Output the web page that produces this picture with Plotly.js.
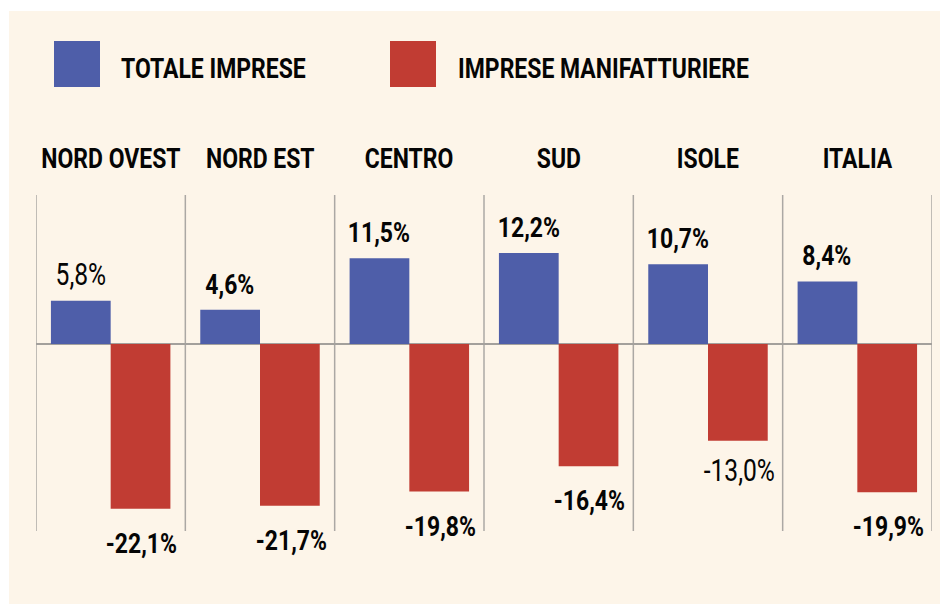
<!DOCTYPE html>
<html>
<head>
<meta charset="utf-8">
<script src="https://cdn.plot.ly/plotly-3.0.1.min.js"></script>
<style>html,body{margin:0;padding:0;background:#fff;}#chart{width:940px;height:604px;}</style>
</head>
<body>
<div id="chart"></div>
<script>
const categories = ['NORD OVEST', 'NORD EST', 'CENTRO', 'SUD', 'ISOLE', 'ITALIA'];
const totaleImprese = [5.8, 4.6, 11.5, 12.2, 10.7, 8.4];
const impreseManifatturiere = [-22.1, -21.7, -19.8, -16.4, -13.0, -19.9];
const seriesNames = ['TOTALE IMPRESE', 'IMPRESE MANIFATTURIERE'];

const W = 940, H = 604;
const BLUE = '#4e5ea9', RED = '#c13c33', CREAM = '#fdf5e9';
const FONT = 'Roboto, "Liberation Sans", sans-serif';
const plotL = 36, plotR = 932, plotT = 195, plotB = 531;
const BOLDF = {family: FONT, size: 28, color: '#050505', weight: 'bold'};
const LIGHTF = {family: FONT, size: 32, color: '#050505', weight: 'normal'};
const SQ = 0.82, SQL = 0.77;

function fmt(v) { return v.toFixed(1).replace('.', ',') + '%'; }

const traces = [
  {type: 'bar', name: seriesNames[0], x: categories, y: totaleImprese, marker: {color: BLUE}, hoverinfo: 'skip'},
  {type: 'bar', name: seriesNames[1], x: categories, y: impreseManifatturiere, marker: {color: RED}, hoverinfo: 'skip'}
];

const annotations = [];
const squeeze = [];
const shapes = [];
function addAnn(a, s, origin) { annotations.push(a); squeeze.push({s: s, origin: origin}); }

shapes.push({type: 'rect', xref: 'paper', yref: 'paper', x0: 9 / W, x1: 1, y0: 0, y1: 1 - 11 / H,
  fillcolor: CREAM, line: {width: 0}, layer: 'below'});
for (let i = 0; i <= categories.length; i++) {
  shapes.push({type: 'line', xref: 'x', yref: 'paper', x0: i - 0.5, x1: i - 0.5,
    y0: 1 - plotB / H, y1: 1 - plotT / H, line: {color: '#aba8a4', width: 1.5}, layer: 'below'});
}
categories.forEach(c => addAnn({x: c, xref: 'x', y: 1 - plotT / H, yref: 'paper',
  text: c, showarrow: false, yanchor: 'middle', yshift: 36, font: BOLDF}, SQ, 'center'));
const lightBlue = [0], lightRed = [4];
totaleImprese.forEach((v, i) => {
  const light = lightBlue.includes(i);
  addAnn({x: categories[i], xref: 'x', y: v, yref: 'y', text: fmt(v), showarrow: false,
    yanchor: 'bottom', xshift: -30, yshift: light ? 6 : 7, font: light ? LIGHTF : BOLDF}, light ? SQL : SQ, 'center');
});
impreseManifatturiere.forEach((v, i) => {
  const light = lightRed.includes(i);
  addAnn({x: categories[i], xref: 'x', y: v, yref: 'y', text: fmt(v), showarrow: false,
    yanchor: 'top', xshift: 31, yshift: light ? -8 : -16, font: light ? LIGHTF : BOLDF}, light ? SQL : SQ, 'center');
});
const legendItems = [{name: seriesNames[0], color: BLUE, sx: 54, tx: 119}, {name: seriesNames[1], color: RED, sx: 390, tx: 456}];
legendItems.forEach(it => {
  shapes.push({type: 'rect', xref: 'paper', yref: 'paper', x0: it.sx / W, x1: (it.sx + 46) / W,
    y0: 1 - 87 / H, y1: 1 - 41 / H, fillcolor: it.color, line: {width: 0}});
  addAnn({xref: 'paper', yref: 'paper', x: it.tx / W, y: 1 - 68 / H, xanchor: 'left', yanchor: 'middle',
    text: it.name, showarrow: false, font: BOLDF}, SQ, 'left');
});

const layout = {
  width: W, height: H,
  margin: {l: 0, r: 0, t: 0, b: 0},
  paper_bgcolor: '#ffffff', plot_bgcolor: 'rgba(0,0,0,0)',
  barmode: 'group', bargap: 0.2, bargroupgap: 0,
  showlegend: false,
  xaxis: {domain: [plotL / W, plotR / W], range: [-0.5, categories.length - 0.5], showticklabels: false,
    showgrid: false, zeroline: false, ticks: '', fixedrange: true},
  yaxis: {domain: [1 - plotB / H, 1 - plotT / H], range: [-25.1, 20], showticklabels: false, showgrid: false,
    zeroline: true, zerolinecolor: '#a3a09c', zerolinewidth: 1.5, ticks: '', fixedrange: true},
  shapes: shapes,
  annotations: annotations
};

Plotly.newPlot('chart', traces, layout, {displayModeBar: false, staticPlot: true}).then(gd => {
  gd.querySelectorAll('g.annotation').forEach(g => {
    const idx = +g.getAttribute('data-index');
    const sq = squeeze[idx];
    const t = g.querySelector('text.annotation-text');
    if (!sq || !t) return;
    const bb = t.getBBox();
    const ox = sq.origin === 'left' ? bb.x : bb.x + bb.width / 2;
    t.setAttribute('transform', 'matrix(' + sq.s + ',0,0,1,' + (ox * (1 - sq.s)) + ',0)');
  });
});
</script>
</body>
</html>
